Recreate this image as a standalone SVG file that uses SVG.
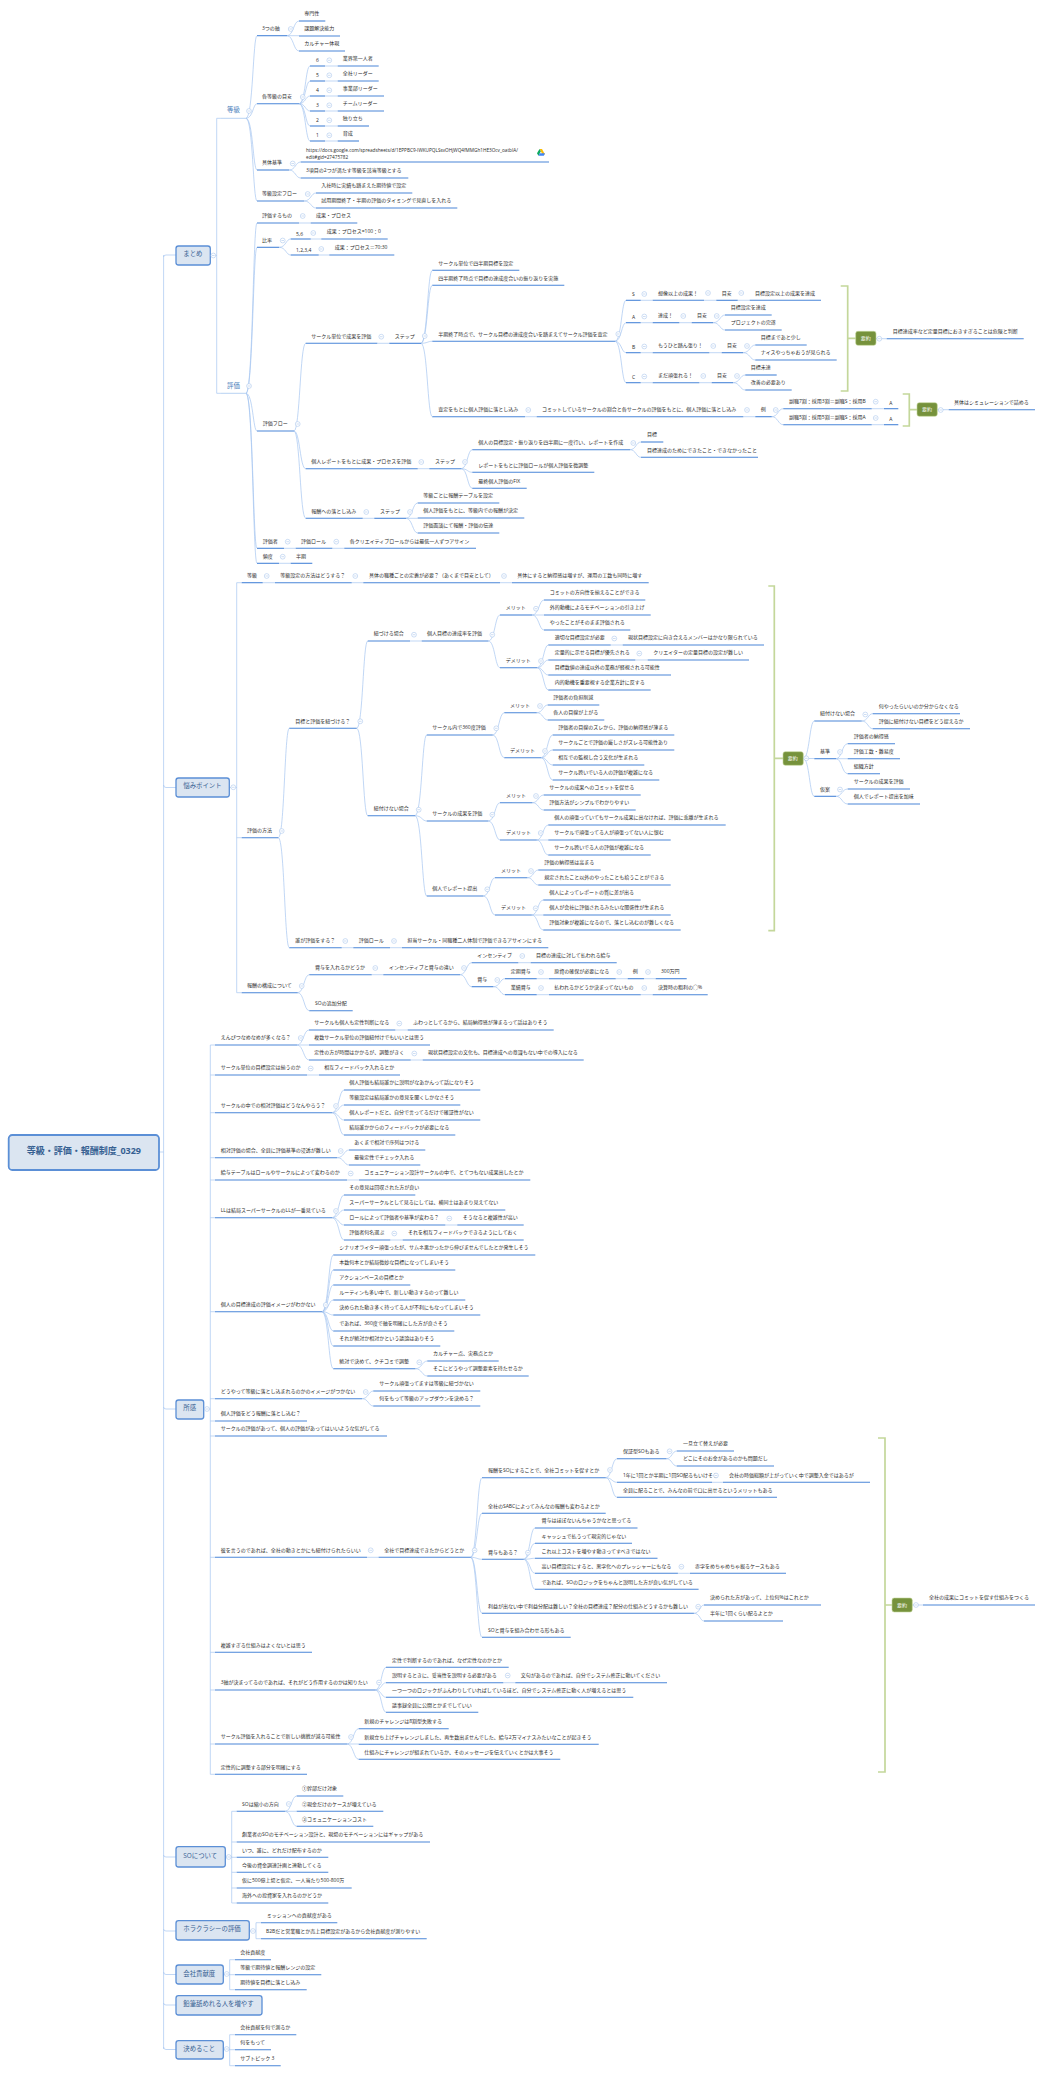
<svg xmlns="http://www.w3.org/2000/svg" width="1044" height="2074" viewBox="0 0 1044 2074">
<style>
text{font-family:"Open Sans","Noto Sans CJK JP",sans-serif;font-size:5px;fill:#2b2b2b}
path{fill:none;stroke:#4a86d8;stroke-width:1.1}
#connectors path{stroke:#a6c6f0;stroke-width:.7}
rect{fill:#dbe5f1;stroke:#5b8fd6;stroke-width:1.3}
.m text{font-size:6.4px;fill:#366092}
.l2 text{font-size:6.4px;fill:#4a7ebb}
.l2 path{stroke:#a6c6f0;stroke-width:.8}
.s rect{fill:#76923c;stroke:#c4d79b;stroke-width:.6}
.s text{fill:#fff}
.b{stroke:#c4d79b;stroke-width:1.7}
.fc{fill:#fff;stroke:#9dbde8;stroke-width:.5}
.fl{stroke:#9dbde8;stroke-width:.5}
</style>
<defs>
<g id="f"><circle class="fc" r="2.4"/><line class="fl" x1="-1.3" x2="1.3"/></g>
</defs>
<g id="connectors">
<path d="M159 1152H163.6M163.6 255V2049M163.6 257Q163.6 255 166 255H176M163.6 785Q163.6 787.5 166 787.5H176M163.6 1407Q163.6 1409 166 1409H176M163.6 1855Q163.6 1857 166 1857H176M163.6 1929Q163.6 1931 166 1931H176M163.6 1972Q163.6 1974.5 166 1974.5H176M163.6 2003Q163.6 2005 166 2005H176M163.6 2047Q163.6 2049.5 166 2049.5H176"/>
<path d="M210.3 255.5H216.7M216.7 118.3V393.3M216.7 118.3H221M216.7 393.3H221"/>
<path d="M246 118.3C253 118.3 253 35.7 257 35.7M246 118.3C253 118.3 253 103.7 257 103.7M246 118.3C253 118.3 253 170 257 170M246 118.3C253 118.3 253 201 257 201"/>
<path d="M287 35.7C293.5 35.7 293.5 21 299 21M287 35.7H299M287 35.7C293.5 35.7 293.5 51 299 51"/>
<path d="M299 103.7C305.5 103.7 305.5 66 310 66M299 103.7C305.5 103.7 305.5 81 310 81M299 103.7C305.5 103.7 305.5 96 310 96M299 103.7C305.5 103.7 305.5 111 310 111M299 103.7C305.5 103.7 305.5 126 310 126M299 103.7C305.5 103.7 305.5 141 310 141"/>
<path d="M325 66H337.7M325 81H337.7M325 96H337.7M325 111H337.7M325 126H337.7M325 141H337.7"/>
<path d="M289 170C295.5 170 295.5 162 300.7 162M289 170C295.5 170 295.5 178 300.7 178M304 201C311 201 311 193 316 193M304 201C311 201 311 208 316 208"/>
<path d="M246 393.3C253 393.3 253 223 257 223M246 393.3C253 393.3 253 247.3 257 247.3M246 393.3C253 393.3 253 431 257 431M246 393.3C253 393.3 253 548.3 257 548.3M246 393.3C253 393.3 253 563.3 257 563.3"/>
<path d="M299 223H310.7M279 247.3C286 247.3 286 239 290.7 239M279 247.3C286 247.3 286 255 290.7 255M310.7 239H321.3M318.7 255H329.3"/>
<path d="M294 431C300 431 300 343.3 305.7 343.3M294 431C300 431 300 468.7 305.7 468.7M294 431C300 431 300 518.3 305.7 518.3"/>
<path d="M377.3 343.3H389.3M421 343.3C427.5 343.3 427.5 270.3 432.3 270.3M421 343.3C427.5 343.3 427.5 285.3 432.3 285.3M421 343.3C427.5 343.3 427.5 341.3 432.3 341.3M421 343.3C427.5 343.3 427.5 416.7 432.3 416.7"/>
<path d="M615 341.3C621.5 341.3 621.5 300.3 626 300.3M615 341.3C621.5 341.3 621.5 322.7 626 322.7M615 341.3C621.5 341.3 621.5 352.7 626 352.7M615 341.3C621.5 341.3 621.5 382.7 626 382.7"/>
<path d="M640.7 300.3H652.7M704 300.3H716.3M737.7 300.3H749.7M640.7 322.7H652.7M679.3 322.7H691.7M713 322.7C720 322.7 720 315 725 315M713 322.7C720 322.7 720 330 725 330M640.7 352.7H652.7M709.3 352.7H721.7M743 352.7C750 352.7 750 345 755.3 345M743 352.7C750 352.7 750 360 755.3 360M640.7 382.7H652.7M699.3 382.7H711.7M733 382.7C740 382.7 740 375 745.3 375M733 382.7C740 382.7 740 390 745.3 390"/>
<path d="M525 416.7H536.7M743.3 416.7H755.3M771.7 416.7C778 416.7 778 408.7 783.3 408.7M771.7 416.7C778 416.7 778 424.7 783.3 424.7M871.7 408.7H884M871.7 424.7H884"/>
<path d="M417.7 468.7H429.3M461.3 468.7C467.5 468.7 467.5 449.7 472.3 449.7M461.3 468.7C467.5 468.7 467.5 472.3 472.3 472.3M461.3 468.7C467.5 468.7 467.5 488.3 472.3 488.3M630 449.7C636 449.7 636 442 641 442M630 449.7C636 449.7 636 457.3 641 457.3"/>
<path d="M362.7 518.3H374.3M406 518.3C412.5 518.3 412.5 503 417.7 503M406 518.3H417.7M406 518.3C412.5 518.3 412.5 533 417.7 533M284 548.3H295.7M332.3 548.3H344.3M279 563.3H290.7"/>
<path d="M876 338.7H886.7M937.3 409.7H948.7M912 1605H923"/>
<path d="M803.3 758.5C809.5 758.5 809.5 721 814.3 721M803.3 758.5H814.3M803.3 758.5C809.5 758.5 809.5 796.3 814.3 796.3M861.7 721C868 721 868 713.7 872.7 713.7M861.7 721C868 721 868 728.7 872.7 728.7M836 758.7C842 758.7 842 743.7 847.7 743.7M836 758.7H847.7M836 758.7C842 758.7 842 773.7 847.7 773.7M836 796.3C842 796.3 842 789 847.7 789M836 796.3C842 796.3 842 804 847.7 804"/>
<path d="M229.3 787.5H236.7M236.7 582.7V992.7M236.7 582.7H241.7M236.7 837.7H241.7M236.7 992.7H241.7"/>
<path d="M262.7 582.7H275M351.7 582.7H363.3M500 582.7H512"/>
<path d="M278.3 837.7C284.5 837.7 284.5 728.3 289.3 728.3M278.3 837.7C284.5 837.7 284.5 947.7 289.3 947.7M356.7 728.3C363 728.3 363 641 367.7 641M356.7 728.3C363 728.3 363 815.7 367.7 815.7"/>
<path d="M410 641H421.7M488.3 641C495 641 495 615 500 615M488.3 641C495 641 495 667.7 500 667.7M532 615C539 615 539 600 544 600M532 615H544M532 615C539 615 539 630 544 630M537 667.7C543.5 667.7 543.5 645 548.3 645M537 667.7C543.5 667.7 543.5 660 548.3 660M537 667.7C543.5 667.7 543.5 675 548.3 675M537 667.7C543.5 667.7 543.5 690 548.3 690M610.7 645H622.7M635.3 660H647.7"/>
<path d="M415 815.7C422 815.7 422 735 426.7 735M415 815.7C422 815.7 422 821 426.7 821M415 815.7C422 815.7 422 896 426.7 896"/>
<path d="M492.7 735C499 735 499 712.7 504.3 712.7M492.7 735C499 735 499 757.7 504.3 757.7M536.7 712.7C543 712.7 543 705 547.7 705M536.7 712.7C543 712.7 543 720 547.7 720M541 757.7C547.5 757.7 547.5 735 552.7 735M541 757.7C547.5 757.7 547.5 750 552.7 750M541 757.7C547.5 757.7 547.5 765 552.7 765M541 757.7C547.5 757.7 547.5 780 552.7 780"/>
<path d="M488.3 821C495 821 495 802.7 500 802.7M488.3 821C495 821 495 840 500 840M532.3 802.7C538.5 802.7 538.5 795 543.7 795M532.3 802.7C538.5 802.7 538.5 810 543.7 810M536.7 840C543 840 543 825 548.3 825M536.7 840H548.3M536.7 840C543 840 543 855 548.3 855"/>
<path d="M483.3 896C490 896 490 877.7 495 877.7M483.3 896C490 896 490 915 495 915M527.3 877.7C533.5 877.7 533.5 870 538.3 870M527.3 877.7C533.5 877.7 533.5 885 538.3 885M531.7 915C538 915 538 900 543.3 900M531.7 915H543.3M531.7 915C538 915 538 930 543.3 930"/>
<path d="M341.7 947.7H353.3M390 947.7H402"/>
<path d="M297.7 992.7C304 992.7 304 974.7 309.3 974.7M297.7 992.7C304 992.7 304 1010.7 309.3 1010.7M371.7 974.7H383.3M460 974.7C466.5 974.7 466.5 962.7 471.7 962.7M460 974.7C466.5 974.7 466.5 986.7 471.7 986.7M518.3 962.7H530.7M493.3 986.7C500 986.7 500 978.7 505 978.7M493.3 986.7C500 986.7 500 994.7 505 994.7M536.7 978.7H549M615.7 978.7H627.7M644 978.7H655.7M536.7 994.7H549M640.7 994.7H652.7"/>
<path d="M203.7 1409H210.3M210.3 1045V1774.3M210.3 1045H215M210.3 1075H215M210.3 1112.7H215M210.3 1157.7H215M210.3 1180H215M210.3 1217.7H215M210.3 1311.7H215M210.3 1398.7H215M210.3 1421H215M210.3 1436H215M210.3 1557.3H215M210.3 1652.3H215M210.3 1690H215M210.3 1744H215M210.3 1774.3H215"/>
<path d="M297 1045C303.5 1045 303.5 1030 309 1030M297 1045H309M297 1045C303.5 1045 303.5 1060 309 1060M395.3 1030H407.7M410.7 1060H422.7M307 1075H319"/>
<path d="M332 1112.7C339 1112.7 339 1090 344 1090M332 1112.7C339 1112.7 339 1105 344 1105M332 1112.7C339 1112.7 339 1120 344 1120M332 1112.7C339 1112.7 339 1135 344 1135M337 1157.7C344 1157.7 344 1150 349 1150M337 1157.7C344 1157.7 344 1165 349 1165M347 1180H359"/>
<path d="M332 1217.7C339 1217.7 339 1195 344 1195M332 1217.7C339 1217.7 339 1210 344 1210M332 1217.7C339 1217.7 339 1225 344 1225M332 1217.7C339 1217.7 339 1240 344 1240M445.3 1225H457.3M390.3 1240H402.7"/>
<path d="M322 1311.7C328.5 1311.7 328.5 1255 333.3 1255M322 1311.7C328.5 1311.7 328.5 1270 333.3 1270M322 1311.7C328.5 1311.7 328.5 1285 333.3 1285M322 1311.7C328.5 1311.7 328.5 1300 333.3 1300M322 1311.7C328.5 1311.7 328.5 1315 333.3 1315M322 1311.7C328.5 1311.7 328.5 1331 333.3 1331M322 1311.7C328.5 1311.7 328.5 1346 333.3 1346M322 1311.7C328.5 1311.7 328.5 1368.7 333.3 1368.7M415.3 1368.7C422 1368.7 422 1361 427.3 1361M415.3 1368.7C422 1368.7 422 1376 427.3 1376M362 1398.7C368.5 1398.7 368.5 1391 373.3 1391M362 1398.7C368.5 1398.7 368.5 1406 373.3 1406"/>
<path d="M367 1557.3H378.6M470.7 1557.3C477 1557.3 477 1477.7 482 1477.7M470.7 1557.3C477 1557.3 477 1513.3 482 1513.3M470.7 1557.3C477 1557.3 477 1559.3 482 1559.3M470.7 1557.3C477 1557.3 477 1613.3 482 1613.3M470.7 1557.3C477 1557.3 477 1637.3 482 1637.3"/>
<path d="M605.7 1477.7C612 1477.7 612 1458.7 617 1458.7M605.7 1477.7C612 1477.7 612 1482.3 617 1482.3M605.7 1477.7C612 1477.7 612 1497.3 617 1497.3M666.4 1458.7C672 1458.7 672 1451 676.8 1451M666.4 1458.7C672 1458.7 672 1466 676.8 1466M712 1482.3H723"/>
<path d="M523.6 1559.3C530 1559.3 530 1528 535 1528M523.6 1559.3C530 1559.3 530 1543.3 535 1543.3M523.6 1559.3C530 1559.3 530 1558.3 535 1558.3M523.6 1559.3C530 1559.3 530 1573.3 535 1573.3M523.6 1559.3C530 1559.3 530 1589.3 535 1589.3M677.9 1573.3H690M693.9 1613.3C700 1613.3 700 1605 704 1605M693.9 1613.3C700 1613.3 700 1621 704 1621"/>
<path d="M375.3 1690C381.5 1690 381.5 1667.3 386 1667.3M375.3 1690C381.5 1690 381.5 1682.7 386 1682.7M375.3 1690C381.5 1690 381.5 1697.3 386 1697.3M375.3 1690C381.5 1690 381.5 1712.3 386 1712.3M503.3 1682.7H515.3M347 1744C353.5 1744 353.5 1728.7 358.7 1728.7M347 1744H358.7M347 1744C353.5 1744 353.5 1759.3 358.7 1759.3"/>
<path d="M225.3 1857H231.7M231.7 1811.3V1903M231.7 1811.3H236.7M231.7 1842H236.7M231.7 1857.3H236.7M231.7 1872.3H236.7M231.7 1888H236.7M231.7 1903H236.7M285 1811.3C291.5 1811.3 291.5 1796 296.7 1796M285 1811.3H296.7M285 1811.3C291.5 1811.3 291.5 1826.3 296.7 1826.3"/>
<path d="M249.3 1931H256M256 1922.7V1938.7M256 1922.7H261M256 1938.7H261M223.3 1974.5H229.7M229.7 1959.7V1989.7M229.7 1959.7H235M229.7 1974.7H235M229.7 1989.7H235M223.3 2049.5H229.7M229.7 2034.7V2065.7M229.7 2034.7H235M229.7 2049.7H235M229.7 2065.7H235"/>
</g>
<g id="root"><rect x="8.7" y="1135" width="150.3" height="35" rx="3.5" style="stroke-width:1.8"/><text x="26.7" y="1154.3" style="font-size:9px;font-weight:700;fill:#366092">等級・評価・報酬制度_0329</text></g>
<g id="matome" class="m"><rect x="176" y="246" width="34.3" height="19" rx="2.5"/><text x="183.3" y="256.3">まとめ</text><use href="#f" x="213.3" y="255.5"/></g>
<g id="n1" class="l2"><text x="227" y="111.6">等級</text><path d="M221 118.3H246"/><use href="#f" x="249" y="111"/></g>
<g id="n2"><text x="262" y="29.9">3つの軸</text><path d="M257 35.7H287"/><use href="#f" x="290.7" y="29"/></g>
<g id="n3"><text x="304.3" y="15.2">専門性</text><path d="M299 21H325.3"/></g>
<g id="n4"><text x="304.3" y="30.2">課題解決能力</text><path d="M299 36H340"/></g>
<g id="n5"><text x="304.3" y="45.2">カルチャー体現</text><path d="M299 51H345"/></g>
<g id="n6"><text x="262" y="97.9">各等級の目安</text><path d="M257 103.7H299"/><use href="#f" x="302.7" y="97"/></g>
<g id="n7"><text x="316" y="62.3">6</text><path d="M310 66H325"/><use href="#f" x="329.3" y="60.3"/></g>
<g id="n8"><text x="342.7" y="60.2">業界第一人者</text><path d="M337.7 66H378.7"/></g>
<g id="n9"><text x="316" y="77.3">5</text><path d="M310 81H325"/><use href="#f" x="329.3" y="75.3"/></g>
<g id="n10"><text x="342.7" y="75.2">全社リーダー</text><path d="M337.7 81H378.7"/></g>
<g id="n11"><text x="316" y="92.3">4</text><path d="M310 96H325"/><use href="#f" x="329.3" y="90.3"/></g>
<g id="n12"><text x="342.7" y="90.2">事業部リーダー</text><path d="M337.7 96H384"/></g>
<g id="n13"><text x="316" y="107.3">3</text><path d="M310 111H325"/><use href="#f" x="329.3" y="105.3"/></g>
<g id="n14"><text x="342.7" y="105.2">チームリーダー</text><path d="M337.7 111H384"/></g>
<g id="n15"><text x="316" y="122.3">2</text><path d="M310 126H325"/><use href="#f" x="329.3" y="120.3"/></g>
<g id="n16"><text x="342.7" y="120.2">独り立ち</text><path d="M337.7 126H369"/></g>
<g id="n17"><text x="316" y="137.3">1</text><path d="M310 141H325"/><use href="#f" x="329.3" y="135.3"/></g>
<g id="n18"><text x="342.7" y="135.2">育成</text><path d="M337.7 141H359"/></g>
<g id="n19"><text x="262" y="164.2">具体基準</text><path d="M257 170H289"/><use href="#f" x="292.7" y="163.5"/></g>
<g id="n20"><text x="306" y="151.5" style="font-size:4.7px">https://docs.google.com/spreadsheets/d/1EPPBC9-IWKUPQLSsvOHjWQ4fMMGh1HE3Ocv_oatbIA/</text><text x="306" y="158.5" style="font-size:4.7px">edit#gid=27475782</text><path d="M300.7 162H549"/><polygon points="539.5,149 542,149 545,154.5 542.6,154.5" fill="#fbbc04"/><polygon points="539.5,149 540.8,151.6 538.4,155.8 537,153.2" fill="#0da960"/><polygon points="538.4,155.8 539.8,153.2 545,153.2 543.8,155.8" fill="#4285f4"/></g>
<g id="n21"><text x="306" y="172.2">3項目の2つが満たす等級を該当等級とする</text><path d="M300.7 178H408.3"/></g>
<g id="n22"><text x="262" y="195.2">等級設定フロー</text><path d="M257 201H304"/><use href="#f" x="307.7" y="194"/></g>
<g id="n23"><text x="321.3" y="187.2">入社時に実績も踏まえた期待値で設定</text><path d="M316 193H412.3"/></g>
<g id="n24"><text x="321.3" y="202.2">試用期間終了・半期の評価のタイミングで見直しを入れる</text><path d="M316 208H457.3"/></g>
<g id="n25" class="l2"><text x="227" y="387.5">評価</text><path d="M221 393.3H246"/><use href="#f" x="249" y="386"/></g>
<g id="n26"><text x="262" y="217.2">評価するもの</text><path d="M257 223H299"/><use href="#f" x="302.7" y="216"/></g>
<g id="n27"><text x="316" y="217.2">成果・プロセス</text><path d="M310.7 223H357.3"/></g>
<g id="n28"><text x="262" y="241.5">比率</text><path d="M257 247.3H279"/><use href="#f" x="282.7" y="240.5"/></g>
<g id="n29"><text x="296" y="235.5">5,6</text><path d="M290.7 239H310.7"/><use href="#f" x="313.3" y="233"/></g>
<g id="n30"><text x="326.7" y="233.2">成果：プロセス=100：0</text><path d="M321.3 239H387.7"/></g>
<g id="n31"><text x="296" y="251.5">1,2,3,4</text><path d="M290.7 255H318.7"/><use href="#f" x="321.3" y="249"/></g>
<g id="n32"><text x="334.7" y="249.2">成果：プロセス＝70:30</text><path d="M329.3 255H394.3"/></g>
<g id="n33"><text x="262.7" y="425.2">評価フロー</text><path d="M257 431H294"/><use href="#f" x="297.7" y="424"/></g>
<g id="n34"><text x="311.3" y="337.5">サークル単位で成果を評価</text><path d="M305.7 343.3H377.3"/><use href="#f" x="381.3" y="336.7"/></g>
<g id="n35"><text x="394.7" y="337.5">ステップ</text><path d="M389.3 343.3H421"/><use href="#f" x="424.7" y="336"/></g>
<g id="n36"><text x="438.3" y="264.5">サークル単位で四半期目標を設定</text><path d="M432.3 270.3H519.3"/></g>
<g id="n37"><text x="438.3" y="279.5">四半期終了時点で目標の達成度合いの振り返りを実施</text><path d="M432.3 285.3H564.3"/></g>
<g id="n38"><text x="438.3" y="335.5">半期終了時点で、サークル目標の達成度合いを踏まえてサークル評価を査定</text><path d="M432.3 341.3H615"/><use href="#f" x="618.3" y="334"/></g>
<g id="n39"><text x="632" y="296.3">S</text><path d="M626 300.3H640.7"/><use href="#f" x="644.3" y="294"/></g>
<g id="n40"><text x="658" y="294.5">想像以上の成果！</text><path d="M652.7 300.3H704"/><use href="#f" x="708" y="293"/></g>
<g id="n41"><text x="721.7" y="294.5">目安</text><path d="M716.3 300.3H737.7"/><use href="#f" x="741.3" y="293"/></g>
<g id="n42"><text x="755" y="294.5">目標設定以上の成果を達成</text><path d="M749.7 300.3H821"/></g>
<g id="n43"><text x="632" y="318.7">A</text><path d="M626 322.7H640.7"/><use href="#f" x="644.3" y="316.5"/></g>
<g id="n44"><text x="658" y="316.9">達成！</text><path d="M652.7 322.7H679.3"/><use href="#f" x="683.3" y="316"/></g>
<g id="n45"><text x="697" y="316.9">目安</text><path d="M691.7 322.7H713"/><use href="#f" x="716.7" y="316"/></g>
<g id="n46"><text x="730.7" y="309.2">目標設定を達成</text><path d="M725 315H771.7"/></g>
<g id="n47"><text x="730.7" y="324.2">プロジェクトの完遂</text><path d="M725 330H781.7"/></g>
<g id="n48"><text x="632" y="348.7">B</text><path d="M626 352.7H640.7"/><use href="#f" x="644.3" y="346.5"/></g>
<g id="n49"><text x="658" y="346.9">もうひと踏ん張り！</text><path d="M652.7 352.7H709.3"/><use href="#f" x="713.3" y="346"/></g>
<g id="n50"><text x="727" y="346.9">目安</text><path d="M721.7 352.7H743"/><use href="#f" x="747" y="346"/></g>
<g id="n51"><text x="760.7" y="339.2">目標まであと少し</text><path d="M755.3 345H806.7"/></g>
<g id="n52"><text x="760.7" y="354.2">ナイスやっちゃおうが見られる</text><path d="M755.3 360H836.7"/></g>
<g id="n53"><text x="632" y="378.7">C</text><path d="M626 382.7H640.7"/><use href="#f" x="644.3" y="376.5"/></g>
<g id="n54"><text x="658" y="376.9">まだ頑張れる！</text><path d="M652.7 382.7H699.3"/><use href="#f" x="703.3" y="376"/></g>
<g id="n55"><text x="717" y="376.9">目安</text><path d="M711.7 382.7H733"/><use href="#f" x="737" y="376"/></g>
<g id="n56"><text x="750.7" y="369.2">目標未達</text><path d="M745.3 375H776.7"/></g>
<g id="n57"><text x="750.7" y="384.2">改善の必要あり</text><path d="M745.3 390H791.7"/></g>
<g id="sum1" class="s"><path class="b" d="M840.7 286H847.7V391H840.7M847.7 338.3H855.7"/><rect x="855.7" y="331.3" width="20.3" height="14" rx="2.2"/><text x="860.7" y="340.2">要約</text><use href="#f" x="879.3" y="338.7"/></g>
<g id="n58"><text x="892.7" y="332.9">目標達成率など定量目標におきすぎることは危険と判断</text><path d="M886.7 338.7H1023.7"/></g>
<g id="n59"><text x="438.3" y="410.9">査定をもとに個人評価に落とし込み</text><path d="M432.3 416.7H525"/><use href="#f" x="528.3" y="410"/></g>
<g id="n60"><text x="542" y="410.9">コミットしているサークルの割合と各サークルの評価をもとに、個人評価に落とし込み</text><path d="M536.7 416.7H743.3"/><use href="#f" x="747" y="410"/></g>
<g id="n61"><text x="760.7" y="410.9">例</text><path d="M755.3 416.7H771.7"/><use href="#f" x="775.7" y="410"/></g>
<g id="n62"><text x="789" y="402.9">副職7割：採用3割＝副職S：採用B</text><path d="M783.3 408.7H871.7"/><use href="#f" x="875.7" y="401.7"/></g>
<g id="n63"><text x="889.3" y="404.5">A</text><path d="M884 408.7H898.3"/></g>
<g id="n64"><text x="789" y="418.9">副職5割：採用5割＝副職S：採用A</text><path d="M783.3 424.7H871.7"/><use href="#f" x="875.7" y="418"/></g>
<g id="n65"><text x="889.3" y="420.5">A</text><path d="M884 424.7H898.3"/></g>
<g id="sum2" class="s"><path class="b" d="M902.7 394H909.3V426H902.7M909.3 409.7H917"/><rect x="917" y="402.7" width="20.3" height="13.6" rx="2.2"/><text x="922" y="411.4">要約</text><use href="#f" x="940.7" y="410"/></g>
<g id="n66"><text x="954" y="403.9">具体はシミュレーションで詰める</text><path d="M948.7 409.7H1035"/></g>
<g id="n67"><text x="311.3" y="462.9">個人レポートをもとに成果・プロセスを評価</text><path d="M305.7 468.7H417.7"/><use href="#f" x="421.3" y="462"/></g>
<g id="n68"><text x="435" y="462.9">ステップ</text><path d="M429.3 468.7H461.3"/><use href="#f" x="465" y="462"/></g>
<g id="n69"><text x="478.3" y="443.9">個人の目標設定・振り返りを四半期に一度行い、レポートを作成</text><path d="M472.3 449.7H630"/><use href="#f" x="633.3" y="443"/></g>
<g id="n70"><text x="647" y="436.2">目標</text><path d="M641 442H663.3"/></g>
<g id="n71"><text x="647" y="451.5">目標達成のためにできたこと・できなかったこと</text><path d="M641 457.3H758"/></g>
<g id="n72"><text x="478.3" y="466.5">レポートをもとに評価ロールが個人評価を微調整</text><path d="M472.3 472.3H594.3"/></g>
<g id="n73"><text x="478.3" y="482.5">最終個人評価のFIX</text><path d="M472.3 488.3H526.7"/></g>
<g id="n74"><text x="311.3" y="512.5">報酬への落とし込み</text><path d="M305.7 518.3H362.7"/><use href="#f" x="366.3" y="512"/></g>
<g id="n75"><text x="380" y="512.5">ステップ</text><path d="M374.3 518.3H406"/><use href="#f" x="410" y="512"/></g>
<g id="n76"><text x="423.3" y="497.2">等級ごとに報酬テーブルを設定</text><path d="M417.7 503H499.3"/></g>
<g id="n77"><text x="423.3" y="512.2">個人評価をもとに、等級内での報酬が決定</text><path d="M417.7 518H524.3"/></g>
<g id="n78"><text x="423.3" y="527.2">評価面談にて報酬・評価の伝達</text><path d="M417.7 533H499.3"/></g>
<g id="n79"><text x="262.7" y="542.5">評価者</text><path d="M257 548.3H284"/><use href="#f" x="287.7" y="541.7"/></g>
<g id="n80"><text x="301" y="542.5">評価ロール</text><path d="M295.7 548.3H332.3"/><use href="#f" x="336.3" y="541.7"/></g>
<g id="n81"><text x="349.7" y="542.5">各クリエイティブロールからは最低一人ずつアサイン</text><path d="M344.3 548.3H476"/></g>
<g id="n82"><text x="262.7" y="557.5">頻度</text><path d="M257 563.3H279"/><use href="#f" x="282.7" y="556.7"/></g>
<g id="n83"><text x="296" y="557.5">半期</text><path d="M290.7 563.3H312.3"/></g>
<g id="nayami" class="m"><rect x="176" y="778" width="53.3" height="19" rx="2.5"/><text x="183.3" y="788.3">悩みポイント</text><use href="#f" x="233.3" y="787.3"/></g>
<g id="n84"><text x="247" y="576.9">等級</text><path d="M241.7 582.7H262.7"/><use href="#f" x="266.7" y="576"/></g>
<g id="n85"><text x="280.3" y="576.9">等級設定の方法はどうする？</text><path d="M275 582.7H351.7"/><use href="#f" x="355.3" y="576"/></g>
<g id="n86"><text x="369" y="576.9">具体の職種ごとの定義が必要？（あくまで目安として）</text><path d="M363.3 582.7H500"/><use href="#f" x="504" y="576"/></g>
<g id="n87"><text x="517.3" y="576.9">具体にすると納得感は増すが、運用の工数も同時に増す</text><path d="M512 582.7H648.7"/></g>
<g id="n88"><text x="247" y="831.9">評価の方法</text><path d="M241.7 837.7H278.3"/><use href="#f" x="281.7" y="831"/></g>
<g id="n89"><text x="295.3" y="722.5">目標と評価を紐づける？</text><path d="M289.3 728.3H356.7"/><use href="#f" x="360.3" y="721.3"/></g>
<g id="n90"><text x="373.7" y="635.2">紐づける場合</text><path d="M367.7 641H410"/><use href="#f" x="414" y="634.7"/></g>
<g id="n91"><text x="427" y="635.2">個人目標の達成率を評価</text><path d="M421.7 641H488.3"/><use href="#f" x="492.3" y="634.7"/></g>
<g id="n92"><text x="505.7" y="609.2">メリット</text><path d="M500 615H532"/><use href="#f" x="536" y="608.7"/></g>
<g id="n93"><text x="549.7" y="594.2">コミットの方向性を揃えることができる</text><path d="M544 600H645.3"/></g>
<g id="n94"><text x="549.7" y="609.2">外的動機によるモチベーションの引き上げ</text><path d="M544 615H650.7"/></g>
<g id="n95"><text x="549.7" y="624.2">やったことがそのまま評価される</text><path d="M544 630H630.3"/></g>
<g id="n96"><text x="505.7" y="661.9">デメリット</text><path d="M500 667.7H537"/><use href="#f" x="541" y="661"/></g>
<g id="n97"><text x="554.7" y="639.2">適切な目標設定が必要</text><path d="M548.3 645H610.7"/><use href="#f" x="614.3" y="638.5"/></g>
<g id="n98"><text x="628" y="639.2">現状目標設定に向き合えるメンバーはかなり限られている</text><path d="M622.7 645H764"/></g>
<g id="n99"><text x="554.7" y="654.2">定量的に示せる目標が優先される</text><path d="M548.3 660H635.3"/><use href="#f" x="639.3" y="653.5"/></g>
<g id="n100"><text x="653.3" y="654.2">クリエイターの定量目標の設定が難しい</text><path d="M647.7 660H749"/></g>
<g id="n101"><text x="554.7" y="669.2">目標数値の達成以外の業務が軽視される可能性</text><path d="M548.3 675H671"/></g>
<g id="n102"><text x="554.7" y="684.2">内的動機を重要視する企業方針に反する</text><path d="M548.3 690H650.7"/></g>
<g id="n103"><text x="373.7" y="809.9">紐付けない場合</text><path d="M367.7 815.7H415"/><use href="#f" x="418.7" y="809.7"/></g>
<g id="n104"><text x="432.3" y="729.2">サークル内で360度評価</text><path d="M426.7 735H492.7"/><use href="#f" x="496.3" y="728.3"/></g>
<g id="n105"><text x="510" y="706.9">メリット</text><path d="M504.3 712.7H536.7"/><use href="#f" x="540" y="706"/></g>
<g id="n106"><text x="553.3" y="699.2">評価者の負担削減</text><path d="M547.7 705H599.3"/></g>
<g id="n107"><text x="553.3" y="714.2">各人の目線が上がる</text><path d="M547.7 720H604.3"/></g>
<g id="n108"><text x="510" y="751.9">デメリット</text><path d="M504.3 757.7H541"/><use href="#f" x="545" y="751"/></g>
<g id="n109"><text x="558.3" y="729.2">評価者の目線のズレから、評価の納得感が薄まる</text><path d="M552.7 735H674.3"/></g>
<g id="n110"><text x="558.3" y="744.2">サークルごとで評価の厳しさがズレる可能性あり</text><path d="M552.7 750H674.3"/></g>
<g id="n111"><text x="558.3" y="759.2">相互での監視し合う文化が生まれる</text><path d="M552.7 765H644.3"/></g>
<g id="n112"><text x="558.3" y="774.2">サークル跨いでいる人の評価が複雑になる</text><path d="M552.7 780H659.3"/></g>
<g id="n113"><text x="432.3" y="815.2">サークルの成果を評価</text><path d="M426.7 821H488.3"/><use href="#f" x="492.3" y="814.7"/></g>
<g id="n114"><text x="506" y="796.9">メリット</text><path d="M500 802.7H532.3"/><use href="#f" x="536" y="796"/></g>
<g id="n115"><text x="549.3" y="789.2">サークルの成果へのコミットを促せる</text><path d="M543.7 795H640.7"/></g>
<g id="n116"><text x="549.3" y="804.2">評価方法がシンプルでわかりやすい</text><path d="M543.7 810H635.7"/></g>
<g id="n117"><text x="506" y="834.2">デメリット</text><path d="M500 840H536.7"/><use href="#f" x="540.7" y="833"/></g>
<g id="n118"><text x="554.3" y="819.2">個人の頑張っていてもサークル成果に出なければ、評価に乖離が生まれる</text><path d="M548.3 825H725.7"/></g>
<g id="n119"><text x="554.3" y="834.2">サークルで頑張ってる人が頑張ってない人に恨む</text><path d="M548.3 840H670.7"/></g>
<g id="n120"><text x="554.3" y="849.2">サークル跨いでる人の評価が複雑になる</text><path d="M548.3 855H650.7"/></g>
<g id="n121"><text x="432.3" y="890.2">個人でレポート提出</text><path d="M426.7 896H483.3"/><use href="#f" x="487.3" y="889.3"/></g>
<g id="n122"><text x="501" y="871.9">メリット</text><path d="M495 877.7H527.3"/><use href="#f" x="531" y="871"/></g>
<g id="n123"><text x="544.3" y="864.2">評価の納得感は高まる</text><path d="M538.3 870H600.7"/></g>
<g id="n124"><text x="544.3" y="879.2">規定されたこと以外のやったことも拾うことができる</text><path d="M538.3 885H670.7"/></g>
<g id="n125"><text x="501" y="909.2">デメリット</text><path d="M495 915H531.7"/><use href="#f" x="535.7" y="908.3"/></g>
<g id="n126"><text x="549.3" y="894.2">個人によってレポートの質に差が出る</text><path d="M543.3 900H640.7"/></g>
<g id="n127"><text x="549.3" y="909.2">個人が会社に評価されるみたいな関係性が生まれる</text><path d="M543.3 915H670.7"/></g>
<g id="n128"><text x="549.3" y="924.2">評価対象が複雑になるので、落とし込むのが難しくなる</text><path d="M543.3 930H680.7"/></g>
<g id="n129"><text x="295.3" y="941.9">誰が評価をする？</text><path d="M289.3 947.7H341.7"/><use href="#f" x="345.3" y="941"/></g>
<g id="n130"><text x="358.7" y="941.9">評価ロール</text><path d="M353.3 947.7H390"/><use href="#f" x="394" y="941"/></g>
<g id="n131"><text x="407.3" y="941.9">担当サークル・同職種二人体制で評価できるアサインにする</text><path d="M402 947.7H548.3"/></g>
<g id="sum3" class="s"><path class="b" d="M768.3 586H774.3V930.6H768.3M774.3 758.3H783"/><rect x="783" y="751.7" width="20.3" height="13.6" rx="2.2"/><text x="787.7" y="760">要約</text><use href="#f" x="806.3" y="758.3"/></g>
<g id="n132"><text x="820" y="715.2">紐付けない場合</text><path d="M814.3 721H861.7"/><use href="#f" x="865.3" y="714.5"/></g>
<g id="n133"><text x="878.7" y="707.9">何やったらいいのか分からなくなる</text><path d="M872.7 713.7H960"/></g>
<g id="n134"><text x="878.7" y="722.9">評価に紐付けない目標をどう捉えるか</text><path d="M872.7 728.7H970"/></g>
<g id="n135"><text x="820" y="752.9">基準</text><path d="M814.3 758.7H836"/><use href="#f" x="840" y="752"/></g>
<g id="n136"><text x="853.7" y="737.9">評価者の納得感</text><path d="M847.7 743.7H895"/></g>
<g id="n137"><text x="853.7" y="752.9">評価工数・難易度</text><path d="M847.7 758.7H900"/></g>
<g id="n138"><text x="853.7" y="767.9">組織方針</text><path d="M847.7 773.7H880"/></g>
<g id="n139"><text x="820" y="790.5">仮案</text><path d="M814.3 796.3H836"/><use href="#f" x="840" y="789.5"/></g>
<g id="n140"><text x="853.7" y="783.2">サークルの成果を評価</text><path d="M847.7 789H910"/></g>
<g id="n141"><text x="853.7" y="798.2">個人でレポート提出を加味</text><path d="M847.7 804H920"/></g>
<g id="n142"><text x="247" y="986.9">報酬の構成について</text><path d="M241.7 992.7H297.7"/><use href="#f" x="301.7" y="986"/></g>
<g id="n143"><text x="315" y="968.9">賞与を入れるかどうか</text><path d="M309.3 974.7H371.7"/><use href="#f" x="375.3" y="968"/></g>
<g id="n144"><text x="389" y="968.9">インセンティブと賞与の違い</text><path d="M383.3 974.7H460"/><use href="#f" x="464" y="968"/></g>
<g id="n145"><text x="477.3" y="956.9">インセンティブ</text><path d="M471.7 962.7H518.3"/><use href="#f" x="522.3" y="956"/></g>
<g id="n146"><text x="536" y="956.9">目標の達成に対して払われる給与</text><path d="M530.7 962.7H616.7"/></g>
<g id="n147"><text x="477.3" y="980.9">賞与</text><path d="M471.7 986.7H493.3"/><use href="#f" x="497.3" y="980"/></g>
<g id="n148"><text x="510.7" y="972.9">定期賞与</text><path d="M505 978.7H536.7"/><use href="#f" x="541" y="972"/></g>
<g id="n149"><text x="554.3" y="972.9">原資の確保が必要になる</text><path d="M549 978.7H615.7"/><use href="#f" x="619.3" y="972"/></g>
<g id="n150"><text x="632.7" y="972.9">例</text><path d="M627.7 978.7H644"/><use href="#f" x="648" y="972"/></g>
<g id="n151"><text x="661" y="972.9">300万円</text><path d="M655.7 978.7H686.7"/></g>
<g id="n152"><text x="510.7" y="988.9">業績賞与</text><path d="M505 994.7H536.7"/><use href="#f" x="541" y="988"/></g>
<g id="n153"><text x="554.3" y="988.9">払われるかどうか決まってないもの</text><path d="M549 994.7H640.7"/><use href="#f" x="644.3" y="988"/></g>
<g id="n154"><text x="658" y="988.9">決算時の粗利の◯%</text><path d="M652.7 994.7H707.7"/></g>
<g id="n155"><text x="315" y="1004.9">SOの追加分配</text><path d="M309.3 1010.7H352.7"/></g>
<g id="shokan" class="m"><rect x="176" y="1400" width="27.7" height="19" rx="2.5"/><text x="183.3" y="1410.3">所感</text><use href="#f" x="207" y="1409"/></g>
<g id="n156"><text x="220.7" y="1039.2">えんぴつなめなめが多くなる？</text><path d="M215 1045H297"/><use href="#f" x="300.7" y="1038"/></g>
<g id="n157"><text x="314.3" y="1024.2">サークルも個人も定性判断になる</text><path d="M309 1030H395.3"/><use href="#f" x="399.3" y="1023.5"/></g>
<g id="n158"><text x="413" y="1024.2">ふわっとしてるから、結局納得感が薄まるって話はありそう</text><path d="M407.7 1030H553.7"/></g>
<g id="n159"><text x="314.3" y="1039.2">複数サークル単位の評価紐付けでもいいとは思う</text><path d="M309 1045H430"/></g>
<g id="n160"><text x="314.3" y="1054.2">定性の方が時間はかかるが、調整がきく</text><path d="M309 1060H410.7"/><use href="#f" x="414.3" y="1053.5"/></g>
<g id="n161"><text x="428" y="1054.2">現状目標設定の文化も、目標達成への意識もない中での導入になる</text><path d="M422.7 1060H583.7"/></g>
<g id="n162"><text x="220.7" y="1069.2">サークル単位の目標設定は揃うのか</text><path d="M215 1075H307"/><use href="#f" x="310.7" y="1068.5"/></g>
<g id="n163"><text x="324.3" y="1069.2">相互フィードバック入れるとか</text><path d="M319 1075H400"/></g>
<g id="n164"><text x="220.7" y="1106.9">サークルの中での相対評価はどうなんやろう？</text><path d="M215 1112.7H332"/><use href="#f" x="336" y="1106"/></g>
<g id="n165"><text x="349.3" y="1084.2">個人評価も結局誰かに説明がなあかんって話になりそう</text><path d="M344 1090H480.3"/></g>
<g id="n166"><text x="349.3" y="1099.2">等級設定は結局誰かの意見を聞くしかなさそう</text><path d="M344 1105H460.3"/></g>
<g id="n167"><text x="349.3" y="1114.2">個人レポートだと、自分で言ってるだけで確証性がない</text><path d="M344 1120H480.3"/></g>
<g id="n168"><text x="349.3" y="1129.2">結局誰かからのフィードバックが必要になる</text><path d="M344 1135H455.3"/></g>
<g id="n169"><text x="220.7" y="1151.9">相対評価の場合、全員に評価基準の浸透が難しい</text><path d="M215 1157.7H337"/><use href="#f" x="340.7" y="1151"/></g>
<g id="n170"><text x="354.3" y="1144.2">あくまで相対で序列はつける</text><path d="M349 1150H425.3"/></g>
<g id="n171"><text x="354.3" y="1159.2">最後定性でチェック入れる</text><path d="M349 1165H420.3"/></g>
<g id="n172"><text x="220.7" y="1174.2">給与テーブルはロールやサークルによって変わるのか</text><path d="M215 1180H347"/><use href="#f" x="350.7" y="1173.5"/></g>
<g id="n173"><text x="364.3" y="1174.2">コミュニケーション設計サークルの中で、とてつもない成果出したとか</text><path d="M359 1180H530.3"/></g>
<g id="n174"><text x="220.7" y="1211.9">LLは結局スーパーサークルのLLが一番見ている</text><path d="M215 1217.7H332"/><use href="#f" x="336" y="1211"/></g>
<g id="n175"><text x="349.3" y="1189.2">その意見は回収された方が良い</text><path d="M344 1195H415.3"/></g>
<g id="n176"><text x="349.3" y="1204.2">スーパーサークルとして見るにしては、横同士はあまり見えてない</text><path d="M344 1210H505.3"/></g>
<g id="n177"><text x="349.3" y="1219.2">ロールによって評価者や基準が変わる？</text><path d="M344 1225H445.3"/><use href="#f" x="449.3" y="1218.5"/></g>
<g id="n178"><text x="462.7" y="1219.2">そうなると複雑性が高い</text><path d="M457.3 1225H523.7"/></g>
<g id="n179"><text x="349.3" y="1234.2">評価者何名選ぶ</text><path d="M344 1240H390.3"/><use href="#f" x="394.3" y="1233.5"/></g>
<g id="n180"><text x="408" y="1234.2">それを相互フィードバックできるようにしておく</text><path d="M402.7 1240H523.7"/></g>
<g id="n181"><text x="220.7" y="1305.9">個人の目標達成の評価イメージがわかない</text><path d="M215 1311.7H322"/><use href="#f" x="325.7" y="1305"/></g>
<g id="n182"><text x="339.3" y="1249.2">シナリオライター頑張ったが、サムネ悪かったから伸びませんでしたとか発生しそう</text><path d="M333.3 1255H535.3"/></g>
<g id="n183"><text x="339.3" y="1264.2">本数何本とか結局微妙な目標になってしまいそう</text><path d="M333.3 1270H455.3"/></g>
<g id="n184"><text x="339.3" y="1279.2">アクションベースの目標とか</text><path d="M333.3 1285H410.3"/></g>
<g id="n185"><text x="339.3" y="1294.2">ルーティンも多い中で、新しい動きするのって難しい</text><path d="M333.3 1300H465.3"/></g>
<g id="n186"><text x="339.3" y="1309.2">決められた動き多く持ってる人が不利にもなってしまいそう</text><path d="M333.3 1315H480.3"/></g>
<g id="n187"><text x="339.3" y="1325.2">であれば、360度で軸を明確にした方が良さそう</text><path d="M333.3 1331H454.3"/></g>
<g id="n188"><text x="339.3" y="1340.2">それが絶対か相対かという議論はありそう</text><path d="M333.3 1346H440.3"/></g>
<g id="n189"><text x="339.3" y="1362.9">絶対で決めて、クチコミで調整</text><path d="M333.3 1368.7H415.3"/><use href="#f" x="419.3" y="1362.3"/></g>
<g id="n190"><text x="433" y="1355.2">カルチャー点、実務点とか</text><path d="M427.3 1361H498.7"/></g>
<g id="n191"><text x="433" y="1370.2">そこにどうやって調整要素を持たせるか</text><path d="M427.3 1376H528.7"/></g>
<g id="n192"><text x="220.7" y="1392.9">どうやって等級に落とし込まれるのかのイメージがつかない</text><path d="M215 1398.7H362"/><use href="#f" x="365.7" y="1392"/></g>
<g id="n193"><text x="379.3" y="1385.2">サークル頑張ってますは等級に紐づかない</text><path d="M373.3 1391H480.3"/></g>
<g id="n194"><text x="379.3" y="1400.2">何をもって等級のアップダウンを決める？</text><path d="M373.3 1406H480.3"/></g>
<g id="n195"><text x="220.7" y="1415.2">個人評価をどう報酬に落とし込む？</text><path d="M215 1421H307"/></g>
<g id="n196"><text x="220.7" y="1430.2">サークルの評価があって、個人の評価があってはいいような気がしてる</text><path d="M215 1436H387"/></g>
<g id="n197"><text x="220.7" y="1551.5">彼を言うのであれば、全社の動きとかにも紐付けられたらいい</text><path d="M215 1557.3H367"/><use href="#f" x="370.7" y="1550.3"/></g>
<g id="n198"><text x="384.3" y="1551.5">全社で目標達成できたからどうとか</text><path d="M378.6 1557.3H470.7"/><use href="#f" x="474.6" y="1550.3"/></g>
<g id="n199"><text x="487.9" y="1471.9">報酬をSOにすることで、全社コミットを促すとか</text><path d="M482 1477.7H605.7"/><use href="#f" x="610" y="1470"/></g>
<g id="n200"><text x="622.9" y="1452.9">保証型SOもある</text><path d="M617 1458.7H666.4"/><use href="#f" x="669.6" y="1451.3"/></g>
<g id="n201"><text x="682.9" y="1445.2">一旦立て替えが必要</text><path d="M676.8 1451H734"/></g>
<g id="n202"><text x="682.9" y="1460.2">どこにそのお金があるのかも問題だし</text><path d="M676.8 1466H774"/></g>
<g id="n203"><text x="622.9" y="1476.5">1年に1回とか半期に1回SO配るもいけそう</text><path d="M617 1482.3H712"/><use href="#f" x="716" y="1475.5"/></g>
<g id="n204"><text x="729" y="1476.5">会社の時価総額が上がっていく中で調整入金ではあるが</text><path d="M723 1482.3H870"/></g>
<g id="n205"><text x="622.9" y="1491.5">全員に配ることで、みんなの前で口に出せるというメリットもある</text><path d="M617 1497.3H777"/></g>
<g id="n206"><text x="487.9" y="1507.5">全社のSABCによってみんなの報酬も変わるよとか</text><path d="M482 1513.3H605.7"/></g>
<g id="n207"><text x="487.9" y="1553.5">賞与もある？</text><path d="M482 1559.3H523.6"/><use href="#f" x="527.9" y="1552.7"/></g>
<g id="n208"><text x="541.4" y="1522.2">賞与はほぼないんちゃうかなと思ってる</text><path d="M535 1528H637.5"/></g>
<g id="n209"><text x="541.4" y="1537.5">キャッシュで払うって現実的じゃない</text><path d="M535 1543.3H632"/></g>
<g id="n210"><text x="541.4" y="1552.5">これ以上コストを増やす動きってすべきではない</text><path d="M535 1558.3H657.5"/></g>
<g id="n211"><text x="541.4" y="1567.5">高い目標設定にすると、黒字化へのプレッシャーにもなる</text><path d="M535 1573.3H677.9"/><use href="#f" x="681.4" y="1566.7"/></g>
<g id="n212"><text x="695" y="1567.5">赤字をめちゃめちゃ掘るケースもある</text><path d="M690 1573.3H786"/></g>
<g id="n213"><text x="541.4" y="1583.5">であれば、SOのロジックをちゃんと説明した方が良い気がしている</text><path d="M535 1589.3H698.6"/></g>
<g id="n214"><text x="487.9" y="1607.5">利益が出ない中で利益分配は難しい？全社の目標達成？配分の仕組みどうするかも難しい</text><path d="M482 1613.3H693.9"/><use href="#f" x="698.2" y="1606.7"/></g>
<g id="n215"><text x="710" y="1599.2">決められた方があって、上位何%はこれとか</text><path d="M704 1605H821"/></g>
<g id="n216"><text x="710" y="1615.2">半年に1回くらい配るよとか</text><path d="M704 1621H783"/></g>
<g id="n217"><text x="487.9" y="1631.5">SOと賞与を組み合わせる形もある</text><path d="M482 1637.3H570.7"/></g>
<g id="n218"><text x="220.7" y="1646.5">複雑すぎる仕組みはよくないとは思う</text><path d="M215 1652.3H312"/></g>
<g id="n219"><text x="220.7" y="1684.2">3軸が決まってるのであれば、それがどう作用するのかは知りたい</text><path d="M215 1690H375.3"/><use href="#f" x="379" y="1682.5"/></g>
<g id="n220"><text x="392" y="1661.5">定性で判断するのであれば、なぜ定性なのかとか</text><path d="M386 1667.3H508.7"/></g>
<g id="n221"><text x="392" y="1676.9">説明するときに、妥当性を説明する必要がある</text><path d="M386 1682.7H503.3"/><use href="#f" x="507.7" y="1675.5"/></g>
<g id="n222"><text x="520.7" y="1676.9">文句があるのであれば、自分でシステム修正に動いてください</text><path d="M515.3 1682.7H667"/></g>
<g id="n223"><text x="392" y="1691.5">一つ一つのロジックがふんわりしていればしているほど、自分でシステム修正に動く人が増えるとは思う</text><path d="M386 1697.3H633.3"/></g>
<g id="n224"><text x="392" y="1706.5">議事録全員に公開とかまでしていい</text><path d="M386 1712.3H478.3"/></g>
<g id="n225"><text x="220.7" y="1738.2">サークル評価を入れることで新しい挑戦が減る可能性</text><path d="M215 1744H347"/><use href="#f" x="351" y="1737"/></g>
<g id="n226"><text x="364.3" y="1722.9">新規のチャレンジは8割型失敗する</text><path d="M358.7 1728.7H448.7"/></g>
<g id="n227"><text x="364.3" y="1738.5">新規立ち上げチャレンジしました、再生数出ませんでした、給与2万マイナスみたいなことが起きそう</text><path d="M358.7 1744.3H598.7"/></g>
<g id="n228"><text x="364.3" y="1753.5">仕組みにチャレンジが組まれているか、そのメッセージを伝えていくとかは大事そう</text><path d="M358.7 1759.3H560.3"/></g>
<g id="n229"><text x="220.7" y="1768.5">定性的に調整する部分を明確にする</text><path d="M215 1774.3H307"/></g>
<g id="sum4" class="s"><path class="b" d="M878 1438H885V1772H878M885 1605H892"/><rect x="892" y="1598" width="20.3" height="14" rx="2.2"/><text x="897" y="1606.9">要約</text><use href="#f" x="916" y="1605"/></g>
<g id="n230"><text x="929" y="1599.2">全社の成果にコミットを促す仕組みをつくる</text><path d="M923 1605H1035"/></g>
<g id="so" class="m"><rect x="176" y="1846.7" width="49.3" height="20.3" rx="2.5"/><text x="183.3" y="1858.3">SOについて</text><use href="#f" x="228.7" y="1857"/></g>
<g id="n231"><text x="242" y="1805.5">SOは縮小の方向</text><path d="M236.7 1811.3H285"/><use href="#f" x="288.7" y="1804"/></g>
<g id="n232"><text x="302" y="1790.2">①幹部だけ対象</text><path d="M296.7 1796H343.3"/></g>
<g id="n233"><text x="302" y="1805.5">②現金だけのケースが増えている</text><path d="M296.7 1811.3H383.3"/></g>
<g id="n234"><text x="302" y="1820.5">③コミュニケーションコスト</text><path d="M296.7 1826.3H373.3"/></g>
<g id="n235"><text x="242" y="1836.2">創業者のSOのモチベーション設計と、現場のモチベーションにはギャップがある</text><path d="M236.7 1842H430"/></g>
<g id="n236"><text x="242" y="1851.5">いつ、誰に、どれだけ配布するのか</text><path d="M236.7 1857.3H328.3"/></g>
<g id="n237"><text x="242" y="1866.5">今後の資金調達計画と連動してくる</text><path d="M236.7 1872.3H328.3"/></g>
<g id="n238"><text x="242" y="1882.2">仮に500億上場と仮定、一人当たり500-800万</text><path d="M236.7 1888H351.7"/></g>
<g id="n239"><text x="242" y="1897.2">海外への投資家を入れるのかどうか</text><path d="M236.7 1903H328.3"/></g>
<g id="hola" class="m"><rect x="176" y="1920.7" width="73.3" height="19.3" rx="2.5"/><text x="183.3" y="1931.3">ホラクラシーの評価</text><use href="#f" x="253" y="1931"/></g>
<g id="n240"><text x="266.7" y="1916.9">ミッションへの貢献度がある</text><path d="M261 1922.7H337.3"/></g>
<g id="n241"><text x="266" y="1932.9">B2Bだと営業職とか売上目標設定があるから会社貢献度が測りやすい</text><path d="M261 1938.7H426.7"/></g>
<g id="koken" class="m"><rect x="176" y="1965" width="47.3" height="19" rx="2.5"/><text x="183.3" y="1975.6">会社貢献度</text><use href="#f" x="226.7" y="1974"/></g>
<g id="n242"><text x="240.3" y="1953.9">会社貢献度</text><path d="M235 1959.7H271"/></g>
<g id="n243"><text x="240.3" y="1968.9">等級で期待値と報酬レンジの設定</text><path d="M235 1974.7H321.3"/></g>
<g id="n244"><text x="240.3" y="1983.9">期待値を目標に落とし込み</text><path d="M235 1989.7H306.7"/></g>
<g id="enpitsu" class="m"><rect x="176" y="1995.7" width="86" height="19.3" rx="2.5"/><text x="183.3" y="2006.3">鉛筆舐めれる人を増やす</text></g>
<g id="kimeru" class="m"><rect x="176" y="2040.7" width="47.3" height="18.3" rx="2.5"/><text x="183.3" y="2050.6">決めること</text><use href="#f" x="226.7" y="2049"/></g>
<g id="n245"><text x="240.3" y="2028.9">会社貢献を何で測るか</text><path d="M235 2034.7H296.3"/></g>
<g id="n246"><text x="240.3" y="2043.9">何をもって</text><path d="M235 2049.7H271"/></g>
<g id="n247"><text x="240.3" y="2059.9">サブトピック 3</text><path d="M235 2065.7H280.7"/></g>
</svg>
